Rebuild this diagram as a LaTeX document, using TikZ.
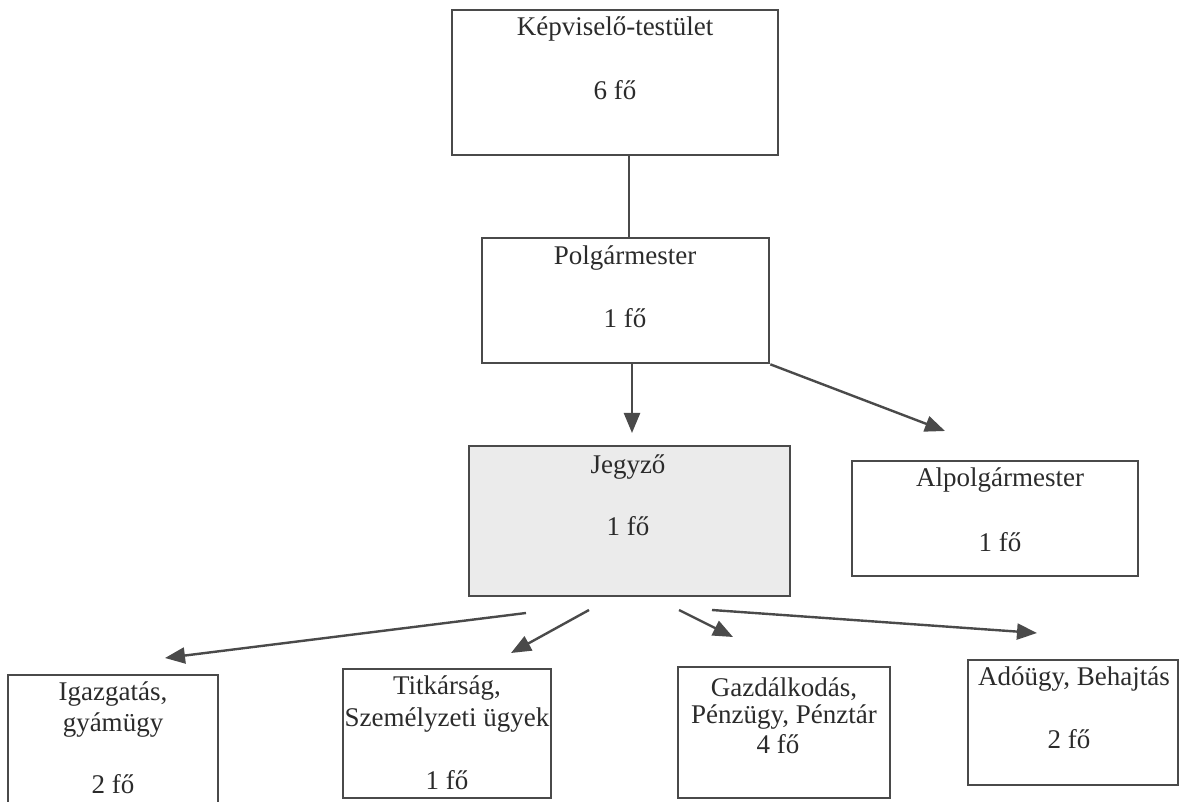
\documentclass[tikz,border=0pt]{standalone}
\usepackage{fontspec}
\setmainfont{Liberation Serif}
\usetikzlibrary{arrows.meta,calc}
\definecolor{ln}{HTML}{4A4A4A}
\definecolor{tx}{HTML}{2B2B2B}
\definecolor{jgfill}{HTML}{EBEBEB}
\begin{document}
\begin{tikzpicture}[x=0.75pt,y=-0.75pt,
  box/.style={draw=ln,line width=2pt,rectangle,inner sep=0pt},
  txt/.style={text=tx,font=\fontsize{20.25}{24}\selectfont,inner sep=0pt},
  arr/.style={draw=ln,line width=1.8pt,-{Triangle[length=15pt,width=12pt]}},
  conn/.style={draw=ln,line width=1.8pt}]
\useasboundingbox (0,0) rectangle (1179,802);
\clip (0,0) rectangle (1179,802);
% boxes
\node[box,minimum width=244.5pt,minimum height=108.75pt] (kt) at (615,82.5) {};
\node[box,minimum width=215.25pt,minimum height=93.75pt] (pm) at (625.5,300.5) {};
\node[box,fill=jgfill,minimum width=240.75pt,minimum height=112.5pt] (jg) at (629.5,521) {};
\node[box,minimum width=214.5pt,minimum height=86.25pt] (ap) at (995,518.5) {};
\node[box,minimum width=157.5pt,minimum height=105pt] (ig) at (113,745) {};
\node[box,minimum width=156pt,minimum height=96.75pt] (tk) at (447,733.5) {};
\node[box,minimum width=159pt,minimum height=98.25pt] (gz) at (784,732.5) {};
\node[box,minimum width=157.5pt,minimum height=93.75pt] (ad) at (1073,722.5) {};
% texts
\node[txt] (kt1) at (615,29) {Képviselő-testület};
\node[txt] (kt2) at (615,90) {6 fő};
\node[txt] (pm1) at (625,258) {Polgármester};
\node[txt] (pm2) at (625,318) {1 fő};
\node[txt] (jg1) at (628,467) {Jegyző};
\node[txt] (jg2) at (628,526) {1 fő};
\node[txt] (ap1) at (1000,480) {Alpolgármester};
\node[txt] (ap2) at (1000,542) {1 fő};
\node[txt] (ig1) at (113,694) {Igazgatás,};
\node[txt] (ig2) at (113,725) {gyámügy};
\node[txt] (ig3) at (113,784) {2 fő};
\node[txt] (tk1) at (447,688) {Titkárság,};
\node[txt] (tk2) at (447,720) {Személyzeti ügyek};
\node[txt] (tk3) at (447,780) {1 fő};
\node[txt] (gz1) at (784,689) {Gazdálkodás,};
\node[txt] (gz2) at (784,717) {Pénzügy, Pénztár};
\node[txt] (gz3) at (778,744) {4 fő};
\node[txt] (ad1) at (1074,679) {Adóügy, Behajtás};
\node[txt] (ad2) at (1069,739) {2 fő};
% connector end points
\coordinate (kpX) at (629,0);
\coordinate (pmA) at (632,363);
\coordinate (jgIn) at (632,433);
\coordinate (apIn) at (945,431);
\coordinate (s1) at (526,613);
\coordinate (e1) at (165,658);
\coordinate (s2) at (589,610);
\coordinate (e2) at (511,653);
\coordinate (s3) at (679,610);
\coordinate (e3) at (733,637);
\coordinate (s4) at (712,610);
\coordinate (e4) at (1037,633);
% connectors
\draw[conn] (kt.south -| kpX) -- (pm.north -| kpX);
\draw[arr] (pmA) -- (jgIn);
\draw[arr] (pm.south east) -- (apIn);
\draw[arr] (s1) -- (e1);
\draw[arr] (s2) -- (e2);
\draw[arr] (s3) -- (e3);
\draw[arr] (s4) -- (e4);
\end{tikzpicture}
\end{document}
